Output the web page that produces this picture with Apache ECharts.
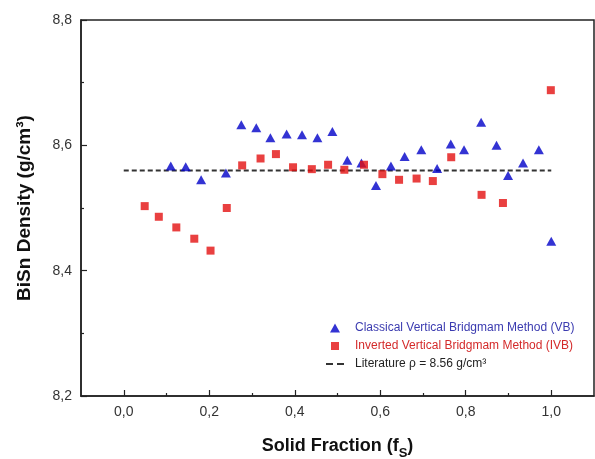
<!DOCTYPE html>
<html><head><meta charset="utf-8">
<script src="https://cdn.jsdelivr.net/npm/echarts@6/dist/echarts.min.js"></script>
<style>html,body{margin:0;padding:0;background:#fff}#c{width:595px;height:459px}</style>
</head><body><div id="c"></div>
<script>
// Classical Vertical Bridgman (VB)
const vbX = [0.110,0.145,0.181,0.239,0.275,0.310,0.343,0.381,0.417,0.453,0.488,0.523,0.556,0.590,0.625,0.657,0.696,0.733,0.765,0.796,0.836,0.872,0.899,0.934,0.971,1.000];
const vbY = [8.567,8.566,8.545,8.556,8.633,8.628,8.612,8.618,8.617,8.612,8.622,8.576,8.572,8.536,8.567,8.582,8.593,8.563,8.602,8.593,8.637,8.600,8.552,8.572,8.593,8.447];
// Inverted Vertical Bridgman (IVB)
const ivbX = [0.049,0.082,0.123,0.165,0.203,0.241,0.277,0.320,0.356,0.396,0.440,0.478,0.516,0.562,0.605,0.644,0.685,0.723,0.766,0.837,0.887,0.999];
const ivbY = [8.503,8.486,8.469,8.451,8.432,8.500,8.568,8.579,8.586,8.565,8.562,8.569,8.561,8.569,8.554,8.545,8.547,8.543,8.581,8.521,8.508,8.688];
// Literature reference line
const litX = [0, 1];
const litY = [8.56, 8.56];
// Axis ticks
const xTicks = [0, 0.2, 0.4, 0.6, 0.8, 1.0];
const xMinorTicks = [0.1, 0.3, 0.5, 0.7, 0.9];
const yTicks = [8.2, 8.4, 8.6, 8.8];
const yMinorTicks = [8.3, 8.5, 8.7];
const names = ['Classical Vertical Bridgmam Method (VB)', 'Inverted Vertical Bridgmam Method (IVB)', 'Literature \u03c1 = 8.56 g/cm\u00b3'];

const FONT = "'Liberation Sans', Arial, sans-serif";
const fmt = v => Number(v).toFixed(1).replace('.', ',');
const axisLineStyle = { color: '#222', width: 1.5 };
// legend icons drawn inside a 20x10 box (tiny corner stubs fix the box)
const ICON_TRI = 'path://M0,0L0.01,0L0,0.01Z M10,0.5 L15,9.5 L5,9.5 Z M20,10 L19.99,10 L20,9.99 Z';
const ICON_SQ = 'path://M0,0L0.01,0L0,0.01Z M6,1 L14,1 L14,9 L6,9 Z M20,10 L19.99,10 L20,9.99 Z';
const ICON_DASH = 'path://M0,0L0.01,0L0,0.01Z M1,4 L8,4 L8,6 L1,6 Z M12,4 L19,4 L19,6 L12,6 Z M20,10 L19.99,10 L20,9.99 Z';

const chart = echarts.init(document.getElementById('c'), null, { renderer: 'canvas' });
chart.setOption({
  animation: false,
  backgroundColor: '#fff',
  grid: { left: 81, right: 1, top: 20, bottom: 63, show: true, borderColor: '#222', borderWidth: 1.5, backgroundColor: 'transparent', containLabel: false, outerBoundsMode: 'none' },
  xAxis: [{
    type: 'value', min: -0.1, max: 1.1, position: 'bottom',
    axisLine: { show: true, onZero: false, lineStyle: axisLineStyle },
    axisTick: { show: true, inside: true, length: 6, customValues: xTicks, lineStyle: { color: '#222', width: 1.2 } },
    axisLabel: { customValues: xTicks, formatter: fmt, color: '#333', fontSize: 14, fontFamily: FONT, margin: 9 },
    splitLine: { show: false },
    name: '{a|Solid Fraction (f}{s|S}{a|)}',
    nameLocation: 'middle', nameGap: 41,
    nameTextStyle: {
      rich: {
        a: { fontSize: 18, fontWeight: 'bold', fontFamily: FONT, color: '#111', verticalAlign: 'bottom', padding: [0, 0, 5, 0] },
        s: { fontSize: 13, fontWeight: 'bold', fontFamily: FONT, color: '#111', verticalAlign: 'bottom' }
      }
    }
  }, {
    type: 'value', min: -0.1, max: 1.1, position: 'bottom', offset: 0,
    axisLine: { show: false, onZero: false },
    axisTick: { show: true, inside: true, length: 3, customValues: xMinorTicks, lineStyle: { color: '#222', width: 1.2 } },
    axisLabel: { show: false },
    splitLine: { show: false }
  }],
  yAxis: [{
    type: 'value', min: 8.2, max: 8.8, position: 'left',
    axisLine: { show: true, onZero: false, lineStyle: axisLineStyle },
    axisTick: { show: true, inside: true, length: 6, customValues: yTicks, lineStyle: { color: '#222', width: 1.2 } },
    axisLabel: { customValues: yTicks, formatter: fmt, color: '#333', fontSize: 14, fontFamily: FONT, margin: 9 },
    splitLine: { show: false },
    name: 'BiSn Density (g/cm\u00b3)',
    nameLocation: 'middle', nameGap: 47, nameRotate: 90,
    nameTextStyle: { fontSize: 19, fontWeight: 'bold', fontFamily: FONT, color: '#111' }
  }, {
    type: 'value', min: 8.2, max: 8.8, position: 'left', offset: 0,
    axisLine: { show: false, onZero: false },
    axisTick: { show: true, inside: true, length: 3, customValues: yMinorTicks, lineStyle: { color: '#222', width: 1.2 } },
    axisLabel: { show: false },
    splitLine: { show: false }
  }],
  legend: {
    orient: 'vertical', left: 320, top: 317, itemWidth: 20, itemHeight: 10, itemGap: 6,
    textStyle: { fontSize: 12, fontFamily: FONT, padding: [0, 0, 0, 5] },
    data: [
      { name: names[0], icon: ICON_TRI, itemStyle: { color: '#0000c8' }, textStyle: { color: '#3b3bb0' } },
      { name: names[1], icon: ICON_SQ, itemStyle: { color: '#e41010' }, textStyle: { color: '#d42a2a' } },
      { name: names[2], icon: ICON_DASH, itemStyle: { color: '#333' }, textStyle: { color: '#222' } }
    ]
  },
  series: [{
    name: names[0], type: 'scatter', symbol: 'triangle', symbolSize: [10, 9],
    itemStyle: { color: '#0000c8' },
    data: vbX.map((x, i) => [x, vbY[i]]), z: 3
  }, {
    name: names[1], type: 'scatter', symbol: 'rect', symbolSize: 8,
    itemStyle: { color: '#e41010' },
    data: ivbX.map((x, i) => [x, ivbY[i]]), z: 4
  }, {
    name: names[2], type: 'line', symbol: 'none',
    lineStyle: { color: '#333', width: 2, type: [5, 3] },
    itemStyle: { color: '#333' },
    data: litX.map((x, i) => [x, litY[i]]), z: 2
  }]
});
</script>
</body></html>
